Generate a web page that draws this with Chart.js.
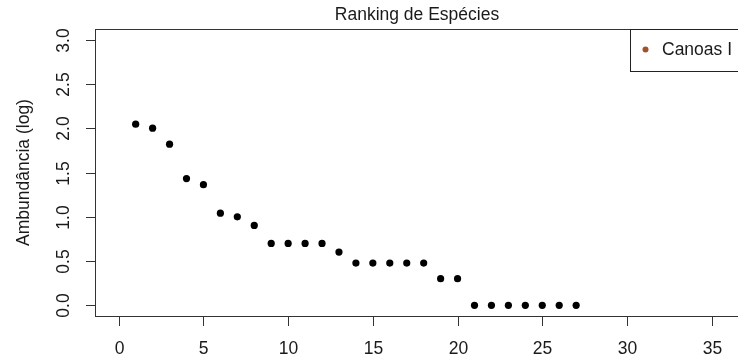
<!DOCTYPE html>
<html>
<head>
<meta charset="utf-8">
<script src="https://cdn.jsdelivr.net/npm/chart.js@4/dist/chart.umd.min.js"></script>
<style>
html,body{margin:0;padding:0;background:#fff;}
#wrap{width:738px;height:363px;}
</style>
</head>
<body>
<div id="wrap"><canvas id="c" width="738" height="363"></canvas></div>
<script>
// ---- data ----
const ranks = [1,2,3,4,5,6,7,8,9,10,11,12,13,14,15,16,17,18,19,20,21,22,23,24,25,26,27];
const logAbundance = [2.045,2.0,1.82,1.431,1.362,1.041,1.0,0.903,0.699,0.699,0.699,0.699,0.602,
  0.477,0.477,0.477,0.477,0.477,0.301,0.301,0,0,0,0,0,0,0];
const xTickValues = [0,5,10,15,20,25,30,35];
const yTickValues = [0,0.5,1,1.5,2,2.5,3];
const yTickLabels = ['0.0','0.5','1.0','1.5','2.0','2.5','3.0'];
const seriesName = 'Canoas I';
const chartTitle = 'Ranking de Espécies';
const yAxisTitle = 'Ambundância (log)';

const points = ranks.map((r,i)=>({x:r, y:logAbundance[i]}));
const FONT = '17.5px "Liberation Sans", Arial, sans-serif';
const TXT = '#1a1a1a';

const rAxes = {
  id:'rAxes',
  afterDraw(chart){
    const ctx = chart.ctx, a = chart.chartArea;
    const xs = chart.scales.x, ys = chart.scales.y;
    ctx.save();
    // box
    ctx.strokeStyle = '#333';
    ctx.lineWidth = 1;
    ctx.strokeRect(Math.round(a.left)+0.5, Math.round(a.top)+0.5, a.right - a.left + 5, Math.round(a.bottom) - Math.round(a.top));
    // x ticks
    ctx.font = FONT; ctx.fillStyle = TXT;
    ctx.textAlign = 'center'; ctx.textBaseline = 'middle';
    xTickValues.forEach(v=>{
      const px = Math.round(xs.getPixelForValue(v))+0.5;
      ctx.beginPath(); ctx.moveTo(px, a.bottom); ctx.lineTo(px, a.bottom+10); ctx.stroke();
      ctx.fillText(String(v), px, a.bottom+33);
    });
    // y ticks (rotated labels)
    yTickValues.forEach((v,i)=>{
      const py = Math.round(ys.getPixelForValue(v))+0.5;
      ctx.beginPath(); ctx.moveTo(a.left-9, py); ctx.lineTo(a.left, py); ctx.stroke();
      ctx.save();
      ctx.translate(a.left-31, py);
      ctx.rotate(-Math.PI/2);
      ctx.fillText(yTickLabels[i], 0, 0);
      ctx.restore();
    });
    // y title
    ctx.save();
    ctx.translate(24, (a.top+a.bottom)/2);
    ctx.rotate(-Math.PI/2);
    ctx.fillText(yAxisTitle, 0, 0);
    ctx.restore();
    // title
    ctx.textBaseline = 'alphabetic';
    ctx.fillText(chartTitle, (a.left + 739)/2, 20);
    // legend
    ctx.fillStyle = '#fff';
    ctx.fillRect(630.5, a.top+0.5, 120, 42);
    ctx.strokeStyle = '#222';
    ctx.strokeRect(630.5, Math.round(a.top)+0.5, 120, 42);
    ctx.fillStyle = '#A0522D';
    ctx.beginPath(); ctx.arc(645.5, 49.5, 3, 0, Math.PI*2); ctx.fill();
    ctx.fillStyle = TXT; ctx.textAlign = 'left'; ctx.textBaseline = 'middle';
    ctx.fillText(seriesName, 662, 50);
    ctx.restore();
  }
};

new Chart(document.getElementById('c'), {
  type: 'scatter',
  data: { datasets: [{
    label: seriesName,
    data: points,
    backgroundColor: '#000',
    borderColor: '#000',
    borderWidth: 0,
    pointRadius: 3.6,
    pointHoverRadius: 3.6
  }]},
  options: {
    responsive: false,
    animation: false,
    events: [],
    layout: { padding: { left: 95, top: 29, right: 0, bottom: 47 } },
    plugins: { legend: { display: false }, title: { display: false }, tooltip: { enabled: false } },
    scales: {
      x: { type: 'linear', display: false, min: -1.4, max: 36.34 },
      y: { type: 'linear', display: false, min: -0.12, max: 3.12 }
    }
  },
  plugins: [rAxes]
});
</script>
</body>
</html>
